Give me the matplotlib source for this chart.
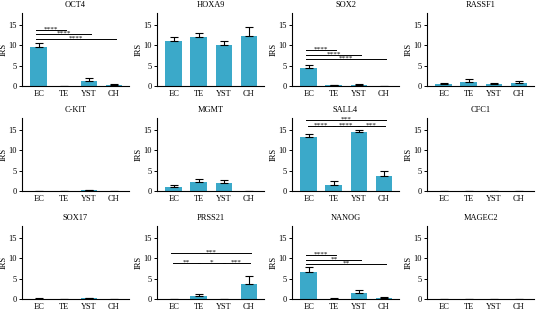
import matplotlib
matplotlib.use('Agg')
import matplotlib.pyplot as plt
import numpy as np

plt.rcParams['font.family'] = ['Liberation Serif', 'DejaVu Serif']

groups = ['EC', 'TE', 'YST', 'CH']
genes = ['OCT4', 'HOXA9', 'SOX2', 'RASSF1',
         'C-KIT', 'MGMT', 'SALL4', 'CFC1',
         'SOX17', 'PRSS21', 'NANOG', 'MAGEC2']

means = {
    'OCT4':   [9.6, 0.0, 1.3, 0.3],
    'HOXA9':  [11.2, 12.1, 10.2, 12.3],
    'SOX2':   [4.4, 0.15, 0.2, 0.0],
    'RASSF1': [0.5, 1.1, 0.4, 0.8],
    'C-KIT':  [0.05, 0.0, 0.15, 0.0],
    'MGMT':   [1.0, 2.1, 2.0, 0.0],
    'SALL4':  [13.3, 1.6, 14.5, 3.6],
    'CFC1':   [0.0, 0.0, 0.0, 0.0],
    'SOX17':  [0.1, 0.0, 0.15, 0.0],
    'PRSS21': [0.0, 0.8, 0.0, 3.8],
    'NANOG':  [6.7, 0.1, 1.6, 0.3],
    'MAGEC2': [0.0, 0.0, 0.0, 0.0],
}
errs = {
    'OCT4':   [1.0, 0.0, 0.6, 0.2],
    'HOXA9':  [0.9, 1.0, 1.0, 2.2],
    'SOX2':   [0.8, 0.15, 0.2, 0.0],
    'RASSF1': [0.3, 0.6, 0.3, 0.5],
    'C-KIT':  [0.05, 0.0, 0.1, 0.0],
    'MGMT':   [0.4, 0.9, 0.8, 0.0],
    'SALL4':  [0.8, 0.8, 0.5, 1.4],
    'CFC1':   [0.0, 0.0, 0.0, 0.0],
    'SOX17':  [0.1, 0.0, 0.1, 0.0],
    'PRSS21': [0.0, 0.4, 0.0, 1.8],
    'NANOG':  [1.1, 0.1, 0.6, 0.15],
    'MAGEC2': [0.0, 0.0, 0.0, 0.0],
}
# significance brackets: (from group, to group, height, stars)
sig = {
    'OCT4':   [(0, 1, 13.9, '****'), (0, 2, 12.9, '****'), (0, 3, 11.7, '****')],
    'SOX2':   [(0, 1, 8.8, '****'), (0, 2, 7.7, '****'), (0, 3, 6.65, '****')],
    'SALL4':  [(0, 3, 17.6, '***'), (0, 1, 16.0, '****'), (1, 2, 16.0, '****'), (2, 3, 16.0, '***')],
    'PRSS21': [(0, 3, 11.3, '***'), (0, 1, 9.0, '**'), (1, 2, 9.0, '*'), (2, 3, 9.0, '***')],
    'NANOG':  [(0, 1, 10.9, '****'), (0, 2, 9.7, '**'), (0, 3, 8.6, '**')],
}

bar_color = '#3ba9c9'
W, H = 541, 310
fig = plt.figure(figsize=(W / 100, H / 100), dpi=100)

lefts = [22, 157, 292, 427]
bottoms = [86, 191, 299]
aw, ah = 107, 73

x = np.arange(len(groups))
for i, g in enumerate(genes):
    r, c = divmod(i, 4)
    ax = fig.add_axes([lefts[c] / W, 1 - bottoms[r] / H, aw / W, ah / H])
    ax.bar(x, means[g], width=0.67, color=bar_color, zorder=2)
    e = np.array(errs[g])
    m = np.array(means[g])
    ax.errorbar(x, m, yerr=[np.zeros_like(e), e], fmt='none', ecolor='black',
                elinewidth=0.8, capsize=3, capthick=0.8, zorder=3)
    for a, b, h, s in sig.get(g, []):
        pad = 0.06 if b - a == 1 and len(sig[g]) == 4 else 0
        ax.plot([a - 0.1 + pad, b + 0.1 - pad], [h, h], color='black', lw=0.7, clip_on=False)
        ax.text((a + b) / 2, h - 0.45, s, ha='center', va='bottom', fontsize=5.2)
    ax.set_xlim(-0.67, 3.6)
    ax.set_ylim(0, 18)
    ax.set_yticks([0, 5, 10, 15])
    ax.set_xticks(x)
    ax.set_xticklabels(groups)
    ax.tick_params(axis='both', labelsize=6, width=0.7, length=2, pad=1.5)
    ax.tick_params(axis='x', length=0, pad=3)
    ax.set_ylabel('IRS', fontsize=6, labelpad=1)
    ax.set_title(g, fontsize=6, pad=4)
    for sp in ['top', 'right']:
        ax.spines[sp].set_visible(False)
    for sp in ['left', 'bottom']:
        ax.spines[sp].set_linewidth(0.8)

fig.savefig('out.png', dpi=100)
